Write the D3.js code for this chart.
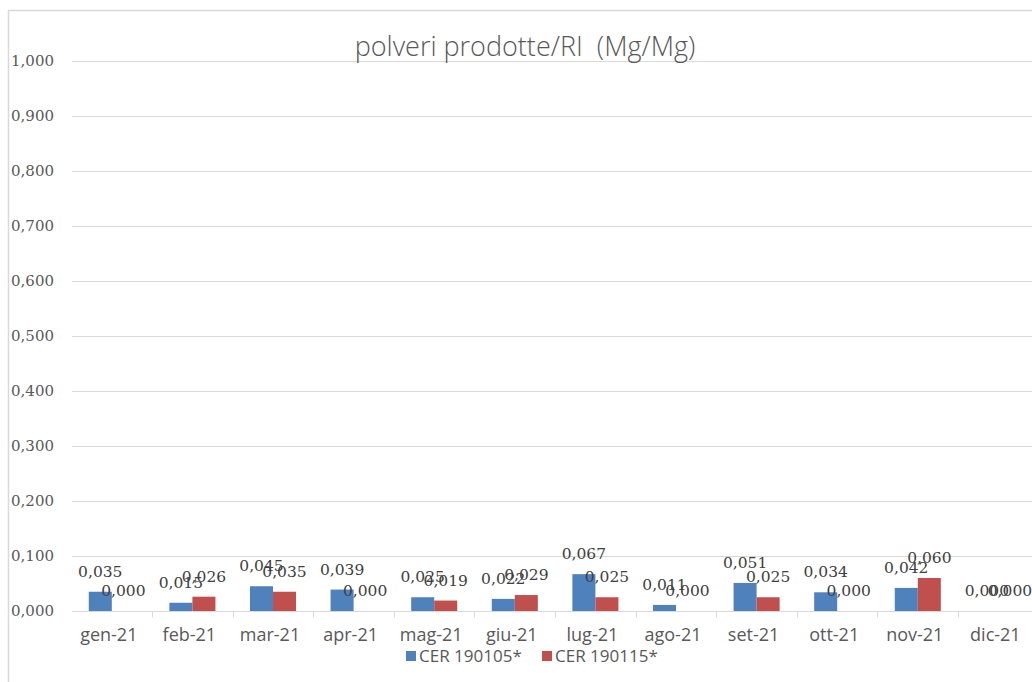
<!DOCTYPE html>
<html>
<head>
<meta charset="utf-8">
<script src="https://cdn.jsdelivr.net/npm/d3@7"></script>
<style>
  html, body { margin: 0; padding: 0; background: #fff; }
  svg { display: block; }
</style>
</head>
<body>
<svg id="chart" width="1032" height="682"></svg>
<script>
const months = ["gen-21","feb-21","mar-21","apr-21","mag-21","giu-21","lug-21","ago-21","set-21","ott-21","nov-21","dic-21"];
const seriesNames = ["CER 190105*","CER 190115*"];
const cer190105 = [0.035,0.015,0.045,0.039,0.025,0.022,0.067,0.011,0.051,0.034,0.042,0.000];
const cer190115 = [0.000,0.026,0.035,0.000,0.019,0.029,0.025,0.000,0.025,0.000,0.060,0.000];
const yTicks = [0,0.1,0.2,0.3,0.4,0.5,0.6,0.7,0.8,0.9,1.0];
const colors = ["#4f81bd","#c0504d"];
const title = "polveri prodotte/RI  (Mg/Mg)";

const svg = d3.select("#chart");
svg.append("rect").attr("width",1032).attr("height",682).attr("fill","#fff");

// chart border
svg.append("rect").attr("x",8.5).attr("y",10.5).attr("width",1100).attr("height",1000)
  .attr("fill","none").attr("stroke","#d9d9d9").attr("stroke-width",1.5);

const left = 71.5, step = 80.6;
const x = d3.scaleBand().domain(months).range([left, left + step*months.length]).padding(0);
const xs = d3.scaleBand().domain(seriesNames).range([0, x.bandwidth()]).paddingInner(0).paddingOuter(0.75);
const y = d3.scaleLinear().domain([0,1]).range([611,61]);
const fmt = v => d3.format(".3f")(v).replace(".", ",");

// gridlines
svg.append("g").selectAll("line").data(yTicks).join("line")
  .attr("x1",72).attr("x2",1032)
  .attr("y1",d=>Math.round(y(d))+0.5).attr("y2",d=>Math.round(y(d))+0.5)
  .attr("stroke","#d9d9d9").attr("stroke-width",1);

// y tick labels
svg.append("g").selectAll("text").data(yTicks).join("text")
  .attr("x",54).attr("y",d=>y(d)+5)
  .attr("text-anchor","end")
  .attr("font-family","DejaVu Serif").attr("font-size",15)
  .attr("fill","#595959")
  .text(fmt);

// x axis with boundary ticks
const xAxis = d3.axisBottom(x).tickSize(0).tickFormat("");
const gx = svg.append("g").attr("transform","translate(0,611.5)").call(xAxis);
gx.select(".domain").remove();
gx.append("line").attr("x1",72).attr("x2",1032).attr("stroke","#d9d9d9");
gx.append("g").selectAll("line").data(months.slice(1)).join("line")
  .attr("x1",d=>Math.round(x(d))+0.5).attr("x2",d=>Math.round(x(d))+0.5)
  .attr("y1",0).attr("y2",6).attr("stroke","#d9d9d9");
gx.append("g").selectAll("text").data(months).join("text")
  .attr("x",d=>x(d)+x.bandwidth()/2 - 3).attr("y",29)
  .attr("text-anchor","middle")
  .attr("font-family","Open Sans").attr("font-size",18)
  .attr("fill","#595959")
  .text(d=>d);

// bars
const data = months.map((m,i)=>({m, vals:[cer190105[i], cer190115[i]]}));
const groups = svg.append("g").selectAll("g").data(data).join("g")
  .attr("transform",d=>`translate(${x(d.m)},0)`);
groups.selectAll("rect").data(d=>d.vals.map((v,j)=>({v, s:seriesNames[j], j}))).join("rect")
  .attr("x",d=>xs(d.s)).attr("width",xs.bandwidth())
  .attr("y",d=>y(d.v)).attr("height",d=>y(0)-y(d.v))
  .attr("fill",d=>colors[d.j]);

// data labels
groups.selectAll("text").data(d=>d.vals.map((v,j)=>({v, s:seriesNames[j], j}))).join("text")
  .attr("x",d=>xs(d.s)+xs.bandwidth()/2).attr("y",d=>y(d.v)-15)
  .attr("text-anchor","middle")
  .attr("font-family","DejaVu Serif").attr("font-size",15.5)
  .attr("fill","#404040")
  .text(d=>fmt(d.v));

// title
svg.append("text").attr("x",525).attr("y",56).attr("text-anchor","middle")
  .attr("xml:space","preserve").style("white-space","pre")
  .attr("font-family","Open Sans").attr("font-size",27).attr("font-weight",300).attr("fill","#595959")
  .text(title);

// legend
const legX = [406, 542];
const leg = svg.append("g").selectAll("g").data(seriesNames).join("g")
  .attr("transform",(d,i)=>`translate(${legX[i]},651)`);
leg.append("rect").attr("width",10).attr("height",10).attr("fill",(d,i)=>colors[i]);
leg.append("text").attr("x",13).attr("y",11)
  .attr("font-family","Open Sans").attr("font-size",17)
  .attr("fill","#595959").text(d=>d);
</script>
</body>
</html>
